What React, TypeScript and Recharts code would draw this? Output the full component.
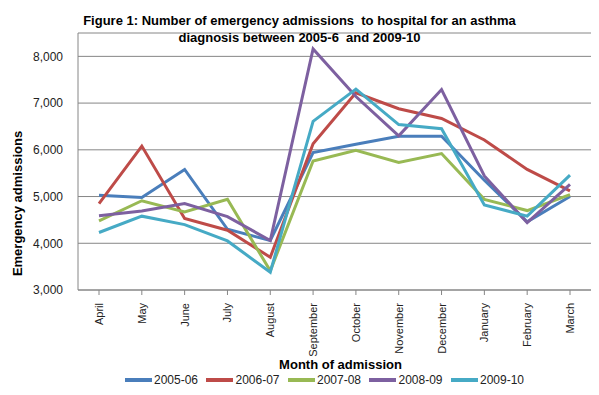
import React from 'react';
import { LineChart, Line, XAxis, YAxis, CartesianGrid, Legend, Label } from 'recharts';

const months = ['April', 'May', 'June', 'July', 'August', 'September', 'October', 'November', 'December', 'January', 'February', 'March'];
const y0506 = [5030, 4980, 5580, 4300, 4060, 5940, 6120, 6290, 6290, 5350, 4460, 5000];
const y0607 = [4850, 6080, 4530, 4280, 3700, 6130, 7220, 6880, 6670, 6210, 5580, 5120];
const y0708 = [4480, 4910, 4670, 4940, 3410, 5760, 5990, 5730, 5920, 4940, 4700, 5040];
const y0809 = [4590, 4690, 4850, 4570, 4060, 8160, 7140, 6300, 7290, 5440, 4440, 5260];
const y0910 = [4230, 4580, 4400, 4050, 3380, 6610, 7300, 6540, 6450, 4820, 4580, 5460];
const yTicks = [3000, 4000, 5000, 6000, 7000, 8000];

const series = [
    { key: 'y0506', name: '2005-06', color: '#4A7EBB', values: y0506 },
    { key: 'y0607', name: '2006-07', color: '#BE4B48', values: y0607 },
    { key: 'y0708', name: '2007-08', color: '#98B954', values: y0708 },
    { key: 'y0809', name: '2008-09', color: '#7D60A0', values: y0809 },
    { key: 'y0910', name: '2009-10', color: '#46AAC5', values: y0910 },
];

const data = months.map((m, i) => {
    const row: any = { month: m };
    series.forEach((s) => (row[s.key] = s.values[i]));
    return row;
});

const FONT = '"Liberation Sans", Arial, sans-serif';

const MonthTick = (props: any) => {
    const { x, y, payload } = props;
    return (
        <text
            x={x}
            y={y + 6}
            transform={`rotate(-90, ${x}, ${y + 6})`}
            textAnchor="end"
            dominantBaseline="central"
            fontSize={11}
            fill="#222"
            fontFamily={FONT}
        >
            {payload.value}
        </text>
    );
};

const LegendContent = (props: any) => {
    const { payload } = props;
    const items = payload || [];
    return (
        <div style={{ display: 'flex', justifyContent: 'center', fontFamily: FONT, fontSize: 12, color: '#222' }}>
            {items.map((p: any, i: number) => (
                <div
                    key={p.value}
                    style={{ display: 'flex', alignItems: 'center', width: i < items.length - 1 ? 81.5 : undefined }}
                >
                    <svg width={27} height={6}>
                        <line x1={0} y1={3} x2={27} y2={3} stroke={p.color} strokeWidth={4} />
                    </svg>
                    <span style={{ marginLeft: 2 }}>{p.value}</span>
                </div>
            ))}
        </div>
    );
};

export default function App() {
    return (
        <div style={{ position: 'relative', margin: -8, width: 599, height: 395, background: '#fff', fontFamily: FONT }}>
            <div
                style={{
                    position: 'absolute',
                    top: 12,
                    left: 0,
                    width: 599,
                    textAlign: 'center',
                    fontWeight: 'bold',
                    fontSize: 13,
                    lineHeight: '17px',
                    color: '#000',
                    zIndex: 2,
                }}
            >
                Figure 1: Number of emergency admissions&nbsp; to hospital for an asthma
                <br />
                diagnosis between 2005-6&nbsp; and 2009-10
            </div>
            <LineChart width={599} height={395} data={data} margin={{ top: 33, right: 8, bottom: 0, left: 8 }}>
                <CartesianGrid vertical={false} stroke="#868686" strokeWidth={1} />
                <XAxis
                    dataKey="month"
                    height={105}
                    padding={{ left: 21, right: 21 }}
                    interval={0}
                    axisLine={{ stroke: '#868686' }}
                    tickLine={{ stroke: '#868686' }}
                    tickSize={5}
                    tick={<MonthTick />}
                >
                    <Label
                        content={(p: any) => {
                            const vb = p.viewBox;
                            return (
                                <text
                                    x={vb.x + vb.width / 2 + 6}
                                    y={364}
                                    textAnchor="middle"
                                    dominantBaseline="central"
                                    fontWeight="bold"
                                    fontSize={13}
                                    fontFamily={FONT}
                                    fill="#000"
                                >
                                    Month of admission
                                </text>
                            );
                        }}
                    />
                </XAxis>
                <YAxis
                    width={70}
                    domain={[3000, 8500]}
                    ticks={yTicks}
                    tickFormatter={(v: number) => v.toLocaleString('en-GB')}
                    axisLine={{ stroke: '#868686' }}
                    tickLine={false}
                    tickMargin={9}
                    tick={{ fontSize: 12, fill: '#222', fontFamily: FONT }}
                >
                    <Label
                        content={(p: any) => {
                            const vb = p.viewBox;
                            const cy = vb.y + vb.height / 2 + 42;
                            return (
                                <text
                                    x={17}
                                    y={cy}
                                    transform={`rotate(-90, 17, ${cy})`}
                                    textAnchor="middle"
                                    dominantBaseline="central"
                                    fontWeight="bold"
                                    fontSize={13}
                                    fontFamily={FONT}
                                    fill="#000"
                                >
                                    Emergency admissions
                                </text>
                            );
                        }}
                    />
                </YAxis>
                {series.map((s) => (
                    <Line
                        key={s.key}
                        type="linear"
                        dataKey={s.key}
                        name={s.name}
                        stroke={s.color}
                        strokeWidth={3}
                        dot={false}
                        activeDot={false}
                        isAnimationActive={false}
                    />
                ))}
                <Legend
                    verticalAlign="middle"
                    align="center"
                    layout="horizontal"
                    content={<LegendContent />}
                    wrapperStyle={{ top: 373, left: 25, width: 599 }}
                />
            </LineChart>
        </div>
    );
}
